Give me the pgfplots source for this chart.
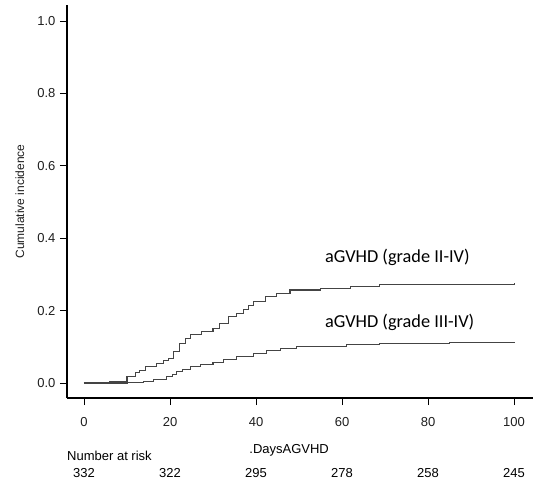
\documentclass[border=0pt]{standalone}
\usepackage{pgfplots}
\pgfplotsset{compat=1.18}
\usepackage{fontspec}
\setmainfont{Liberation Sans}
\newfontfamily\calib{Carlito}
\definecolor{curve}{HTML}{444444}
\definecolor{txt}{HTML}{1E1E1E}
\begin{document}
\begin{tikzpicture}
\begin{axis}[
  name=ax,
  scale only axis,
  width=466bp, height=393bp,
  xmin=-3.95, xmax=104.4,
  ymin=-0.0414, ymax=1.044,
  axis lines=left,
  axis line style={-, line width=2.2bp, black},
  xtick={0,20,40,60,80,100},
  ytick={0,0.2,0.4,0.6,0.8,1.0},
  tick align=outside,
  major tick length=7bp,
  tick style={black, line width=0.7bp},
  /pgf/number format/assume math mode=true,
  yticklabel style={/pgf/number format/.cd, fixed, fixed zerofill, precision=1, /tikz/.cd, xshift=-1bp},
  ticklabel style={font=\fontsize{13bp}{15bp}\selectfont, text=txt},
  xticklabel style={yshift=-9bp},
  ylabel={Cumulative incidence},
  ylabel style={at={(axis description cs:-0.101,0.5)}, anchor=center, rotate=0, font=\fontsize{12bp}{14bp}\selectfont, text=txt},
  clip=false,
  every node/.append style={text=txt},
]
\addplot[const plot, color=curve, line width=1.1bp] coordinates {
(0,0) (6,0.004) (10,0.017) (11.9,0.028) (13,0.035) (14.2,0.046) (16.9,0.055)
(18.5,0.062) (19.6,0.068) (20.8,0.086) (22.3,0.11) (23.5,0.122) (24.7,0.133)
(27.4,0.142) (30,0.151) (31.6,0.165) (33.6,0.183) (35.5,0.192) (37,0.202)
(38.2,0.213) (39.4,0.225) (42.1,0.239) (44.8,0.248) (47.9,0.257) (54.9,0.261)
(61.9,0.267) (68.8,0.271) (85,0.273) (100,0.275)
};
\addplot[const plot, color=curve, line width=1.1bp] coordinates {
(0,0) (10,0.002) (13.8,0.004) (16.1,0.01) (19.2,0.017) (20.5,0.024) (21.5,0.031)
(23,0.038) (24.7,0.046) (27,0.05) (30,0.056) (32.4,0.064) (35.5,0.073)
(39.4,0.082) (42.5,0.091) (45.6,0.096) (49.5,0.102) (61,0.107) (68.8,0.11)
(85,0.111) (100,0.112)
};
\node[anchor=base west, inner sep=0pt, font=\calib\fontsize{18.3bp}{21bp}\selectfont] at (axis cs:56,0.334) {aGVHD (grade II-IV)};
\node[anchor=base west, inner sep=0pt, font=\calib\fontsize{18.3bp}{21bp}\selectfont] at (axis cs:56,0.153) {aGVHD (grade III-IV)};
\node[anchor=center, inner sep=0pt, font=\fontsize{13bp}{15bp}\selectfont] at (axis cs:47.7,-0.187) {.DaysAGVHD};
\node[anchor=west, inner sep=0pt, font=\fontsize{13bp}{15bp}\selectfont] at (axis cs:-3.95,-0.2017) {Number at risk};
\node[anchor=center, inner sep=0pt, font=\fontsize{13bp}{15bp}\selectfont] at (axis cs:0,-0.248) {332};
\node[anchor=center, inner sep=0pt, font=\fontsize{13bp}{15bp}\selectfont] at (axis cs:20,-0.248) {322};
\node[anchor=center, inner sep=0pt, font=\fontsize{13bp}{15bp}\selectfont] at (axis cs:40,-0.248) {295};
\node[anchor=center, inner sep=0pt, font=\fontsize{13bp}{15bp}\selectfont] at (axis cs:60,-0.248) {278};
\node[anchor=center, inner sep=0pt, font=\fontsize{13bp}{15bp}\selectfont] at (axis cs:80,-0.248) {258};
\node[anchor=center, inner sep=0pt, font=\fontsize{13bp}{15bp}\selectfont] at (axis cs:100,-0.248) {245};
\end{axis}
\pgfresetboundingbox
\path[use as bounding box] ([xshift=-67bp,yshift=-85bp]ax.south west) rectangle ([xshift=1bp,yshift=5bp]ax.north east);
\end{tikzpicture}
\end{document}
